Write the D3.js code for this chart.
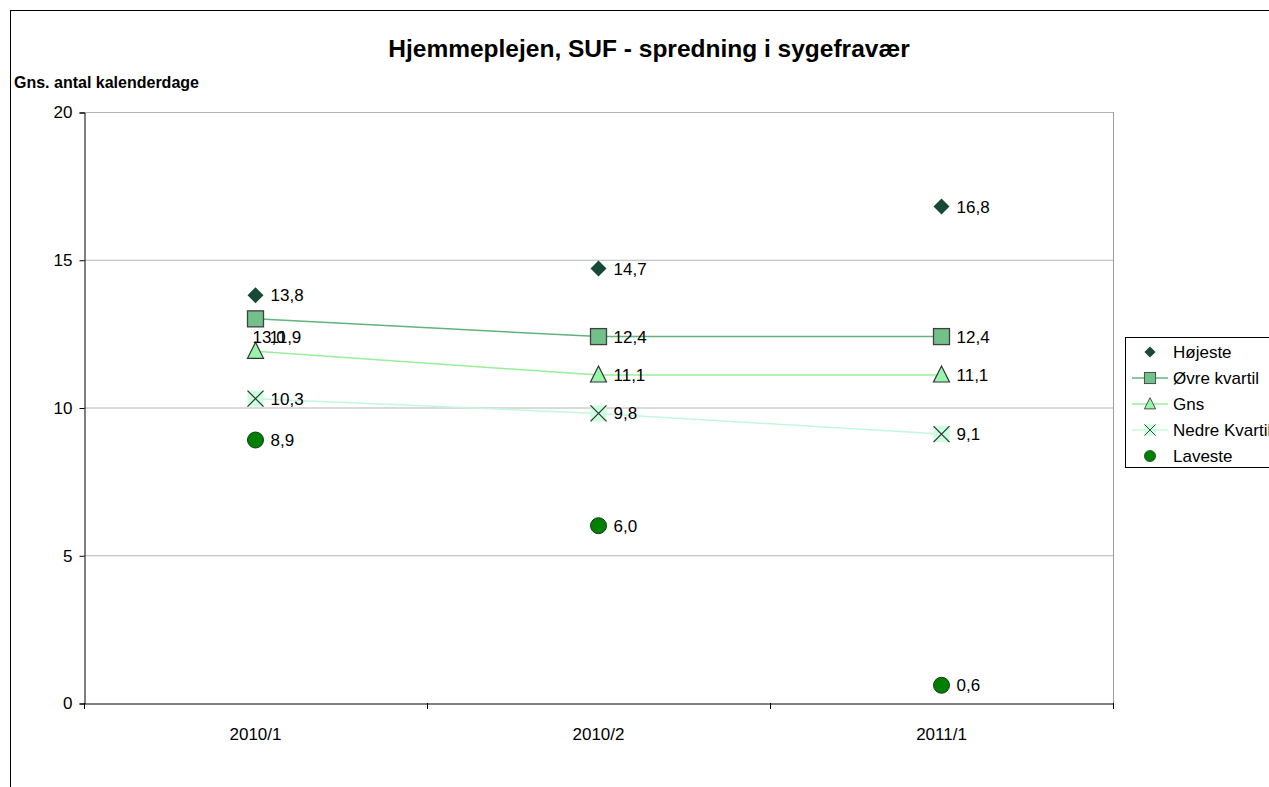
<!DOCTYPE html>
<html>
<head>
<meta charset="utf-8">
<script src="https://cdn.jsdelivr.net/npm/d3@7"></script>
<style>
  body { margin: 0; background: #fff; }
  text { font-family: "Liberation Sans", Arial, sans-serif; fill: #000; }
</style>
</head>
<body>
<svg id="chart" width="1269" height="787"></svg>
<script>
// data
const categories = ['2010/1', '2010/2', '2011/1'];
const hojeste = [13.8, 14.7, 16.8];
const ovreKvartil = [13.0, 12.4, 12.4];
const gns = [11.9, 11.1, 11.1];
const nedreKvartil = [10.3, 9.8, 9.1];
const laveste = [8.9, 6.0, 0.6];
const yTicks = [0, 5, 10, 15, 20];

const series = [
    { name: 'Højeste', values: hojeste, shape: 'diamond', fill: '#174a36', stroke: '#174a36', line: null },
    { name: 'Øvre kvartil', values: ovreKvartil, shape: 'square', fill: '#72c08a', stroke: '#404040', line: '#62b47c' },
    { name: 'Gns', values: gns, shape: 'triangle', fill: '#99f5ac', stroke: '#333', line: '#99ee99' },
    { name: 'Nedre Kvartil', values: nedreKvartil, shape: 'cross', fill: '#ccffe0', stroke: '#333', line: '#c4f8dc' },
    { name: 'Laveste', values: laveste, shape: 'circle', fill: '#008000', stroke: '#1a3a1a', line: null }
];

const svg = d3.select('#chart');
const FONT = '"Liberation Sans", Arial, sans-serif';

// outer frame
svg.append('rect')
    .attr('x', 10.5).attr('y', 10.5)
    .attr('width', 1300).attr('height', 800)
    .attr('fill', 'none').attr('stroke', '#000');

const plotL = 84, plotR = 1113, plotT = 112, plotB = 703;

const x = d3.scaleBand().domain(categories).range([plotL, plotR]);
const y = d3.scaleLinear().domain([0, 20]).range([plotB, plotT]);

// gridlines
svg.append('g')
    .selectAll('line')
    .data(yTicks.filter(d => d > 0))
    .enter().append('line')
    .attr('x1', plotL).attr('x2', plotR)
    .attr('y1', d => y(d) + 0.5).attr('y2', d => y(d) + 0.5)
    .attr('stroke', '#b4b4b4');

// right border of plot area
svg.append('line')
    .attr('x1', plotR + 0.5).attr('x2', plotR + 0.5)
    .attr('y1', plotT).attr('y2', plotB)
    .attr('stroke', '#a0a0a0');

// axes
const yAxis = svg.append('g')
    .attr('transform', `translate(${plotL + 0.5},0.5)`)
    .call(d3.axisLeft(y).tickValues(yTicks).tickSize(5).tickPadding(7));
const xAxis = svg.append('g')
    .attr('transform', `translate(0,${plotB + 0.5})`)
    .call(d3.axisBottom(x).tickSize(0).tickPadding(24));

[yAxis, xAxis].forEach(a => {
    a.attr('font-size', 17).attr('font-family', FONT);
    a.select('.domain').attr('stroke', '#000');
    a.selectAll('text').attr('fill', '#000');
});
// category boundary ticks
svg.append('g')
    .selectAll('line')
    .data(d3.range(categories.length + 1))
    .enter().append('line')
    .attr('x1', i => plotL + i * x.bandwidth() + 0.5)
    .attr('x2', i => plotL + i * x.bandwidth() + 0.5)
    .attr('y1', plotB).attr('y2', plotB + 6)
    .attr('stroke', '#000');

// title + axis title
svg.append('text')
    .attr('x', 649).attr('y', 57)
    .attr('text-anchor', 'middle')
    .style('font-size', '24.5px').style('font-weight', 'bold')
    .text('Hjemmeplejen, SUF - spredning i sygefravær');
svg.append('text')
    .attr('x', 14).attr('y', 88)
    .style('font-size', '16px').style('font-weight', 'bold')
    .text('Gns. antal kalenderdage');

function drawMarker(g, s) {
    if (s.shape === 'diamond') {
        g.append('path').attr('d', 'M0,-8L8,0L0,8L-8,0Z').attr('fill', s.fill);
    } else if (s.shape === 'square') {
        g.append('rect').attr('x', -8).attr('y', -8).attr('width', 16).attr('height', 16)
            .attr('fill', s.fill).attr('stroke', s.stroke).attr('stroke-width', 1.3);
    } else if (s.shape === 'triangle') {
        g.append('path').attr('d', 'M0,-9L8,7L-8,7Z')
            .attr('fill', s.fill).attr('stroke', s.stroke).attr('stroke-width', 1.2);
    } else if (s.shape === 'cross') {
        g.append('rect').attr('x', -8).attr('y', -8).attr('width', 16).attr('height', 16).attr('fill', s.fill);
        g.append('path').attr('d', 'M-8,-8L8,8M8,-8L-8,8').attr('stroke', s.stroke).attr('stroke-width', 1.3);
    } else {
        g.append('circle').attr('r', 8).attr('fill', s.fill).attr('stroke', s.stroke).attr('stroke-width', 1);
    }
}

const fmt = v => v.toFixed(1).replace('.', ',');
const cx = c => x(c) + x.bandwidth() / 2;

// lines
series.filter(s => s.line).forEach(s => {
    svg.append('path')
        .datum(s.values)
        .attr('fill', 'none')
        .attr('stroke', s.line)
        .attr('stroke-width', 1.5)
        .attr('d', d3.line().x((d, i) => cx(categories[i])).y(d => y(d)));
});

// markers (series drawn bottom to top)
series.slice().reverse().forEach(s => {
    s.values.forEach((v, i) => {
        const g = svg.append('g').attr('transform', `translate(${cx(categories[i])},${y(v)})`);
        drawMarker(g, s);
    });
});
// data labels
series.forEach(s => {
    s.values.forEach((v, i) => {
        let lx = cx(categories[i]) + 15, ly = y(v) + 6;
        // overlapping labels at 2010/1 as in the original
        if (i === 0 && s.name === 'Øvre kvartil') { lx = cx(categories[i]) - 3; ly = y(v) + 24; }
        if (i === 0 && s.name === 'Gns') { lx = cx(categories[i]) + 14; ly = y(v) - 8; }
        svg.append('text').attr('x', lx).attr('y', ly)
            .style('font-size', '17px').text(fmt(v));
    });
});

// legend
const legend = svg.append('g');
legend.append('rect')
    .attr('x', 1125.5).attr('y', 337.5).attr('width', 160).attr('height', 130)
    .attr('fill', '#fff').attr('stroke', '#000');
series.forEach((s, i) => {
    const ly = 352 + i * 26;
    if (s.line) {
        legend.append('line').attr('x1', 1132).attr('x2', 1168).attr('y1', ly).attr('y2', ly)
            .attr('stroke', s.line).attr('stroke-width', 1.5);
    }
    const g = legend.append('g').attr('transform', `translate(1150,${ly}) scale(0.7)`);
    drawMarker(g, s);
    legend.append('text').attr('x', 1173).attr('y', ly + 6)
        .style('font-size', '17px').text(s.name);
});
</script>
</body>
</html>
